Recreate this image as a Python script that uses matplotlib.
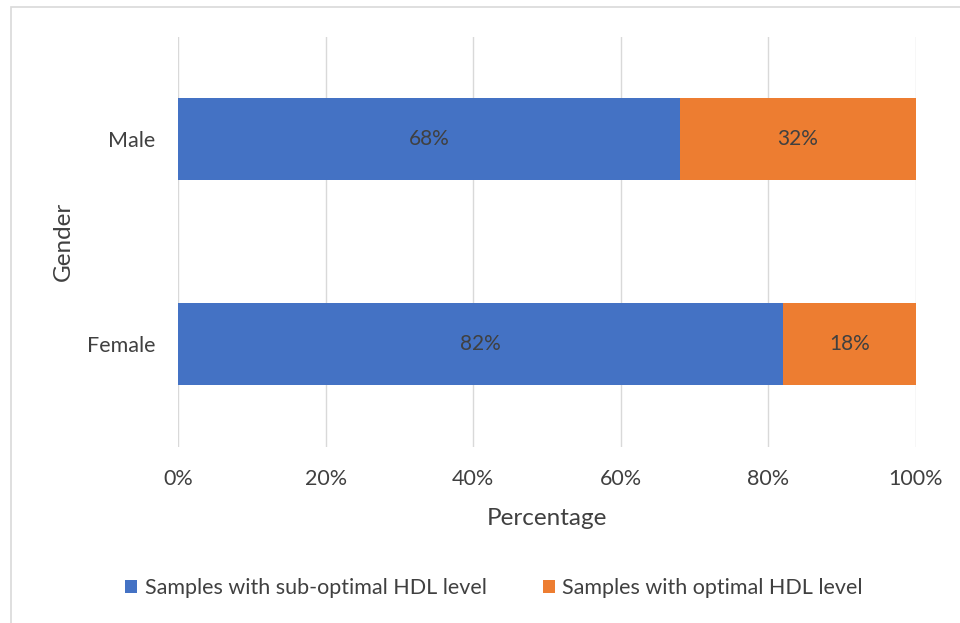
import matplotlib.pyplot as plt
from matplotlib.patches import Rectangle
from matplotlib.ticker import PercentFormatter

# HDL level split by gender (percent of samples)
genders = ['Female', 'Male']
sub_optimal = [82, 68]
optimal = [18, 32]
series_names = ['Samples with sub-optimal HDL level', 'Samples with optimal HDL level']

BLUE = '#4472C4'
ORANGE = '#ED7D31'
TEXT = '#404040'

plt.rcParams['font.family'] = ['Lato', 'DejaVu Sans']

fig = plt.figure(figsize=(9.6, 6.23), dpi=100)
fig.patch.set_facecolor('white')

# thin frame around the chart area
fig.patches.append(Rectangle((11 / 960, -0.1), 1.2, 1.1 - 7 / 623,
                             transform=fig.transFigure, fill=False,
                             edgecolor='#D9D9D9', linewidth=1.2))

ax = fig.add_axes([178 / 960, 1 - 446.5 / 623, 738 / 960, 410 / 623])

# -------------------stacked bars--------------------------
b1 = ax.barh(genders, sub_optimal, height=0.4, color=BLUE, label=series_names[0], zorder=2)
b2 = ax.barh(genders, optimal, left=sub_optimal, height=0.4, color=ORANGE,
             label=series_names[1], zorder=2)
ax.bar_label(b1, labels=[f'{v}%' for v in sub_optimal], label_type='center',
             color=TEXT, fontsize=15)
ax.bar_label(b2, labels=[f'{v}%' for v in optimal], label_type='center',
             color=TEXT, fontsize=15)

# -------------------axes styling--------------------------
ax.set_xlim(0, 100)
ax.set_ylim(-0.5, 1.5)
ax.set_xticks(range(0, 101, 20))
ax.xaxis.set_major_formatter(PercentFormatter(decimals=0))
ax.grid(axis='x', color='#D9D9D9', linewidth=1, zorder=0)
for side in ['top', 'right', 'bottom', 'left']:
    ax.spines[side].set_visible(False)
ax.tick_params(axis='both', length=0, labelsize=15.5, colors=TEXT)
ax.tick_params(axis='x', pad=16)
ax.tick_params(axis='y', pad=16.5)

ax.set_xlabel('Percentage', fontsize=17.5, color=TEXT, labelpad=14)
ax.set_ylabel('Gender', fontsize=17.5, color=TEXT, labelpad=9)

# -------------------legend--------------------------
fig.legend(handles=[b1, b2], loc='center', bbox_to_anchor=(494 / 960, 1 - 588 / 623),
           ncol=2, frameon=False, fontsize=15.5, labelcolor=TEXT,
           handlelength=0.55, handleheight=0.55, handletextpad=0.35, columnspacing=2.6)

plt.savefig('out.png', dpi=100, facecolor='white')
